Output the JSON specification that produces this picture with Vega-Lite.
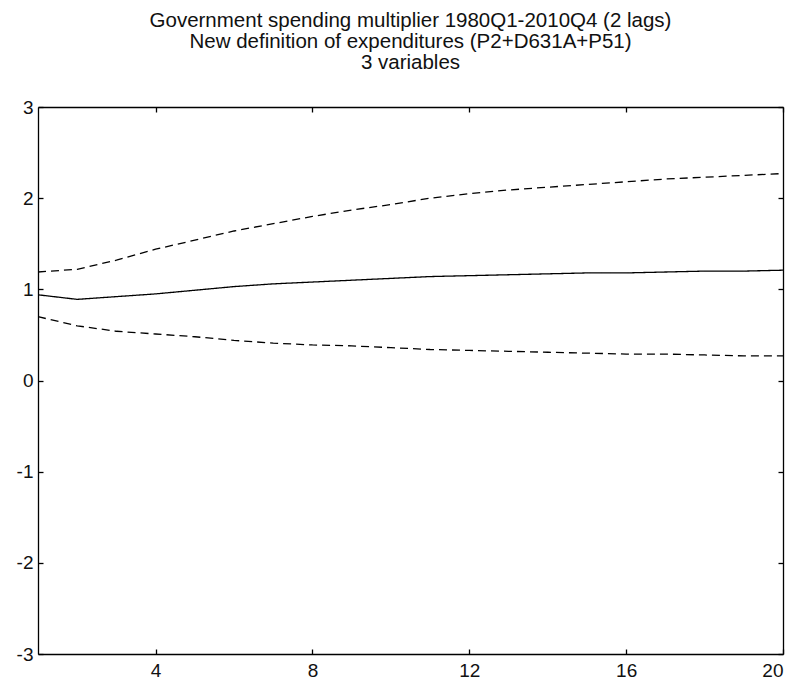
{
  "$schema": "https://vega.github.io/schema/vega-lite/v6.json",
  "width": 745,
  "height": 547,
  "autosize": {"type": "none"},
  "padding": {"left": 38, "top": 107, "right": 13, "bottom": 28},
  "background": "white",
  "title": {
    "text": [
      "Government spending multiplier 1980Q1-2010Q4 (2 lags)",
      "New definition of expenditures (P2+D631A+P51)",
      "3 variables"
    ],
    "font": "Liberation Sans",
    "fontSize": 20.5,
    "fontWeight": "normal",
    "color": "#111111",
    "lineHeight": 21,
    "anchor": "middle",
    "offset": 25
  },
  "data": {
    "values": [
      {"step": 1, "band": "estimate", "value": 0.94},
      {"step": 2, "band": "estimate", "value": 0.89},
      {"step": 3, "band": "estimate", "value": 0.92},
      {"step": 4, "band": "estimate", "value": 0.95},
      {"step": 5, "band": "estimate", "value": 0.99},
      {"step": 6, "band": "estimate", "value": 1.03},
      {"step": 7, "band": "estimate", "value": 1.06},
      {"step": 8, "band": "estimate", "value": 1.08},
      {"step": 9, "band": "estimate", "value": 1.10},
      {"step": 10, "band": "estimate", "value": 1.12},
      {"step": 11, "band": "estimate", "value": 1.14},
      {"step": 12, "band": "estimate", "value": 1.15},
      {"step": 13, "band": "estimate", "value": 1.16},
      {"step": 14, "band": "estimate", "value": 1.17},
      {"step": 15, "band": "estimate", "value": 1.18},
      {"step": 16, "band": "estimate", "value": 1.18},
      {"step": 17, "band": "estimate", "value": 1.19},
      {"step": 18, "band": "estimate", "value": 1.20},
      {"step": 19, "band": "estimate", "value": 1.20},
      {"step": 20, "band": "estimate", "value": 1.21},
      {"step": 1, "band": "upper", "value": 1.19},
      {"step": 2, "band": "upper", "value": 1.22},
      {"step": 3, "band": "upper", "value": 1.32},
      {"step": 4, "band": "upper", "value": 1.44},
      {"step": 5, "band": "upper", "value": 1.54},
      {"step": 6, "band": "upper", "value": 1.64},
      {"step": 7, "band": "upper", "value": 1.72},
      {"step": 8, "band": "upper", "value": 1.80},
      {"step": 9, "band": "upper", "value": 1.87},
      {"step": 10, "band": "upper", "value": 1.93},
      {"step": 11, "band": "upper", "value": 2.00},
      {"step": 12, "band": "upper", "value": 2.05},
      {"step": 13, "band": "upper", "value": 2.09},
      {"step": 14, "band": "upper", "value": 2.12},
      {"step": 15, "band": "upper", "value": 2.15},
      {"step": 16, "band": "upper", "value": 2.18},
      {"step": 17, "band": "upper", "value": 2.21},
      {"step": 18, "band": "upper", "value": 2.23},
      {"step": 19, "band": "upper", "value": 2.25},
      {"step": 20, "band": "upper", "value": 2.27},
      {"step": 1, "band": "lower", "value": 0.70},
      {"step": 2, "band": "lower", "value": 0.60},
      {"step": 3, "band": "lower", "value": 0.54},
      {"step": 4, "band": "lower", "value": 0.51},
      {"step": 5, "band": "lower", "value": 0.48},
      {"step": 6, "band": "lower", "value": 0.44},
      {"step": 7, "band": "lower", "value": 0.41},
      {"step": 8, "band": "lower", "value": 0.39},
      {"step": 9, "band": "lower", "value": 0.38},
      {"step": 10, "band": "lower", "value": 0.36},
      {"step": 11, "band": "lower", "value": 0.34},
      {"step": 12, "band": "lower", "value": 0.33},
      {"step": 13, "band": "lower", "value": 0.32},
      {"step": 14, "band": "lower", "value": 0.31},
      {"step": 15, "band": "lower", "value": 0.30},
      {"step": 16, "band": "lower", "value": 0.29},
      {"step": 17, "band": "lower", "value": 0.29},
      {"step": 18, "band": "lower", "value": 0.28},
      {"step": 19, "band": "lower", "value": 0.27},
      {"step": 20, "band": "lower", "value": 0.27}
    ]
  },
  "layer": [
    {
      "mark": {"type": "line", "color": "black", "strokeWidth": 1.3},
      "encoding": {
        "x": {
          "field": "step",
          "type": "quantitative",
          "scale": {"domain": [1, 20], "nice": false, "zero": false},
          "axis": {"values": [4, 8, 12, 16, 20], "title": null, "grid": false, "labelPadding": 12}
        },
        "y": {
          "field": "value",
          "type": "quantitative",
          "scale": {"domain": [-3, 3], "nice": false},
          "axis": {"values": [-3, -2, -1, 0, 1, 2, 3], "title": null, "grid": false, "labelPadding": 10}
        },
        "strokeDash": {
          "field": "band",
          "type": "nominal",
          "scale": {"domain": ["estimate", "upper", "lower"], "range": [[1, 0], [8, 5], [8, 5]]},
          "legend": null
        }
      }
    },
    {
      "mark": {"type": "line", "opacity": 0},
      "encoding": {
        "x": {
          "field": "step",
          "type": "quantitative",
          "axis": {"orient": "top", "values": [4, 8, 12, 16, 20], "labels": false, "title": null, "grid": false}
        },
        "y": {
          "field": "value",
          "type": "quantitative",
          "axis": {"orient": "right", "values": [-3, -2, -1, 0, 1, 2, 3], "labels": false, "title": null, "grid": false}
        },
        "detail": {"field": "band", "type": "nominal"}
      }
    }
  ],
  "resolve": {"axis": {"x": "independent", "y": "independent"}},
  "config": {
    "view": {"stroke": null},
    "axis": {
      "domainColor": "black",
      "domainWidth": 1.3,
      "tickColor": "black",
      "tickSize": -5,
      "tickWidth": 1.3,
      "labelFont": "Liberation Sans",
      "labelFontSize": 19,
      "labelColor": "#111111",
      "labelExpr": "datum.value + ''"
    }
  }
}
